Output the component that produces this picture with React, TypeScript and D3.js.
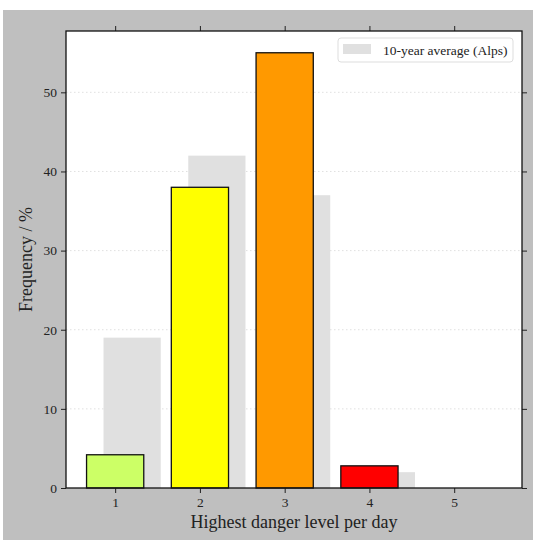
import React, { useEffect, useRef } from "react";
import * as d3 from "d3";

const levels = [1, 2, 3, 4, 5];
const thisSeason = [4.2, 38, 55, 2.8, 0];
const tenYearAvg = [19, 42, 37, 2, 0];
const levelColors = ["#ccff66", "#ffff00", "#ff9900", "#ff0000", "#7f00ff"];
const yTicks = [0, 10, 20, 30, 40, 50];

const W = 536;
const H = 542;
const FONT = "'Liberation Serif', 'DejaVu Serif', serif";

const App: React.FC = () => {
  const svgRef = useRef<SVGSVGElement | null>(null);

  useEffect(() => {
    if (!svgRef.current) return;
    const svg = d3.select(svgRef.current);
    svg.selectAll("*").remove();

    const margin = { top: 31, right: 14, bottom: 54, left: 66 };
    const innerW = W - margin.left - margin.right;
    const innerH = H - margin.top - margin.bottom;

    // figure background
    svg
      .append("rect")
      .attr("x", 3)
      .attr("y", 10)
      .attr("width", 530)
      .attr("height", 530)
      .attr("fill", "#bfbfbf");

    const x = d3.scaleLinear().domain([0.42, 5.8]).range([0, innerW]);
    const y = d3.scaleLinear().domain([0, 57.75]).range([innerH, 0]);
    const barW = 0.675;

    const g = svg
      .append("g")
      .attr("transform", `translate(${margin.left},${margin.top})`);

    g.append("rect")
      .attr("width", innerW)
      .attr("height", innerH)
      .attr("fill", "white");

    // grid
    g.selectAll(".grid")
      .data(yTicks.slice(1))
      .join("line")
      .attr("x1", 0)
      .attr("x2", innerW)
      .attr("y1", (d) => y(d))
      .attr("y2", (d) => y(d))
      .attr("stroke", "#d8d8d8")
      .attr("stroke-width", 0.8)
      .attr("stroke-dasharray", "1.5,2.5");

    // 10-year average (behind)
    g.selectAll(".avg")
      .data(tenYearAvg)
      .join("rect")
      .attr("x", (d, i) => x(levels[i] + 0.2 - barW / 2))
      .attr("width", x(barW) - x(0))
      .attr("y", (d) => y(d))
      .attr("height", (d) => innerH - y(d))
      .attr("fill", "#e0e0e0");

    // this season
    g.selectAll(".cur")
      .data(thisSeason.filter((d) => d > 0))
      .join("rect")
      .attr("x", (d, i) => x(levels[i] - barW / 2))
      .attr("width", x(barW) - x(0))
      .attr("y", (d) => y(d))
      .attr("height", (d) => innerH - y(d))
      .attr("fill", (d, i) => levelColors[i])
      .attr("stroke", "#111")
      .attr("stroke-width", 1.3);

    // axes, ticks outward on all sides
    const styleAxis = (sel: any) => {
      sel.select(".domain").remove();
      sel.selectAll(".tick line").attr("stroke", "#222").attr("stroke-width", 1);
      sel
        .selectAll(".tick text")
        .attr("font-family", FONT)
        .attr("font-size", "13.5px")
        .attr("fill", "#222");
    };

    g.append("g")
      .attr("transform", `translate(0,${innerH})`)
      .call(d3.axisBottom(x).tickValues(levels).tickFormat(d3.format("d")).tickSize(5).tickPadding(4))
      .call(styleAxis);
    g.append("g")
      .call(d3.axisTop(x).tickValues(levels).tickSize(5).tickFormat(() => ""))
      .call(styleAxis);
    g.append("g")
      .call(d3.axisLeft(y).tickValues(yTicks).tickSize(5).tickPadding(4))
      .call(styleAxis);
    g.append("g")
      .attr("transform", `translate(${innerW},0)`)
      .call(d3.axisRight(y).tickValues(yTicks).tickSize(5).tickFormat(() => ""))
      .call(styleAxis);

    // frame
    g.append("rect")
      .attr("width", innerW)
      .attr("height", innerH)
      .attr("fill", "none")
      .attr("stroke", "#111")
      .attr("stroke-width", 1.3);

    // legend
    const lg = g.append("g").attr("transform", `translate(${innerW - 184},7)`);
    lg.append("rect")
      .attr("width", 175)
      .attr("height", 24)
      .attr("rx", 3)
      .attr("fill", "white")
      .attr("stroke", "#dddddd");
    lg.append("rect")
      .attr("x", 5)
      .attr("y", 6)
      .attr("width", 28)
      .attr("height", 10)
      .attr("fill", "#e0e0e0");
    lg.append("text")
      .attr("x", 45)
      .attr("y", 16.5)
      .attr("font-family", FONT)
      .attr("font-size", "13.5px")
      .attr("fill", "#222")
      .text("10-year average (Alps)");

    // axis labels
    svg
      .append("text")
      .attr("x", margin.left + innerW / 2)
      .attr("y", 528)
      .attr("text-anchor", "middle")
      .attr("font-family", FONT)
      .attr("font-size", "18px")
      .attr("fill", "#222")
      .text("Highest danger level per day");
    svg
      .append("text")
      .attr("transform", `translate(32,${margin.top + innerH / 2}) rotate(-90)`)
      .attr("text-anchor", "middle")
      .attr("font-family", FONT)
      .attr("font-size", "18px")
      .attr("fill", "#222")
      .text("Frequency / %");
  }, []);

  return (
    <svg
      ref={svgRef}
      width={W}
      height={H}
      style={{ position: "absolute", left: 0, top: 0, background: "white" }}
    />
  );
};

export default App;
